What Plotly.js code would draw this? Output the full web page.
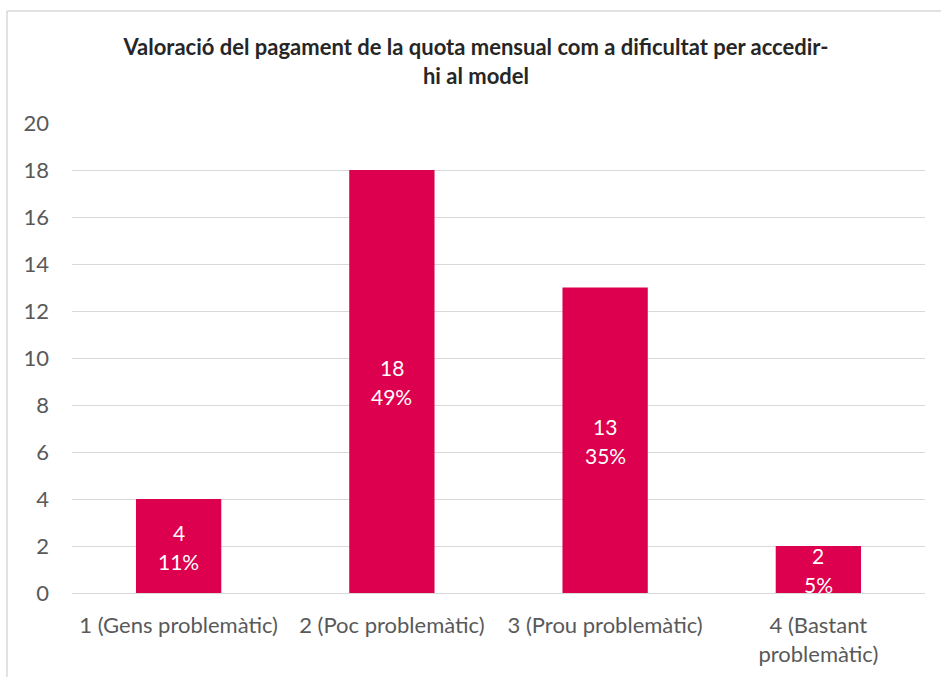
<!DOCTYPE html>
<html>
<head>
<meta charset="utf-8">
<script src="https://cdn.plot.ly/plotly-3.0.1.min.js"></script>
<style>html,body{margin:0;padding:0;background:#fff;}#chart{width:941px;height:677px;}</style>
</head>
<body>
<div id="chart"></div>
<script>
const categories = ["1 (Gens problemàtic)", "2 (Poc problemàtic)", "3 (Prou problemàtic)", "4 (Bastant<br>problemàtic)"];
const values = [4, 18, 13, 2];
const percents = ["11%", "49%", "35%", "5%"];
const yTicks = [0, 2, 4, 6, 8, 10, 12, 14, 16, 18, 20];
const chartTitle = "Valoració del pagament de la quota mensual com a dificultat per accedir-<br>hi al model";

const FONT = "Lato, 'Open Sans', sans-serif";
const annotations = [];
categories.forEach((c, i) => {
  annotations.push({x: c, y: values[i] / 2, xref: 'x', yref: 'y', text: String(values[i]),
    showarrow: false, yshift: 14, font: {family: FONT, size: 21, color: '#ffffff'}});
  annotations.push({x: c, y: values[i] / 2, xref: 'x', yref: 'y', text: percents[i],
    showarrow: false, yshift: -15, font: {family: FONT, size: 21, color: '#ffffff'}});
});

const data = [{
  type: 'bar',
  x: categories,
  y: values,
  width: 0.4,
  marker: {color: '#DC004E'},
  hoverinfo: 'x+y'
}];

const layout = {
  width: 941, height: 677,
  paper_bgcolor: '#ffffff', plot_bgcolor: '#ffffff',
  margin: {l: 72, r: 16, t: 123, b: 84},
  showlegend: false,
  title: {text: chartTitle, x: 476/941, xanchor: 'center', xref: 'container', yref: 'container',
    y: 1 - 55/677, yanchor: 'top',
    font: {family: FONT, size: 22, color: '#262626', weight: 'bold'}},
  xaxis: {type: 'category', range: [-0.5, 3.5], showgrid: false, zeroline: false,
    showline: false, ticks: '', ticklabelstandoff: 17,
    tickfont: {family: FONT, size: 22, color: '#595959'}, fixedrange: true},
  yaxis: {range: [0, 20], tickvals: yTicks, ticktext: yTicks.map(String), showgrid: true,
    gridcolor: '#d9d9d9', gridwidth: 1, zeroline: true, zerolinecolor: '#d9d9d9', zerolinewidth: 1,
    showline: false, ticks: '', ticklabelstandoff: 22,
    tickfont: {family: FONT, size: 22, color: '#595959'}, fixedrange: true},
  annotations: annotations,
  shapes: [
    {type: 'line', xref: 'paper', yref: 'paper', x0: (7-72)/853, x1: (7-72)/853, y0: 84/470*-1 - 0.01, y1: (677-11-84)/470,
      line: {color: '#d9d9d9', width: 1.5}},
    {type: 'line', xref: 'paper', yref: 'paper', x0: (7-72)/853, x1: (941-72)/853, y0: (677-11-84)/470, y1: (677-11-84)/470,
      line: {color: '#d9d9d9', width: 1.5}}
  ]
};

Plotly.newPlot('chart', data, layout, {displayModeBar: false, staticPlot: true});
</script>
</body>
</html>
